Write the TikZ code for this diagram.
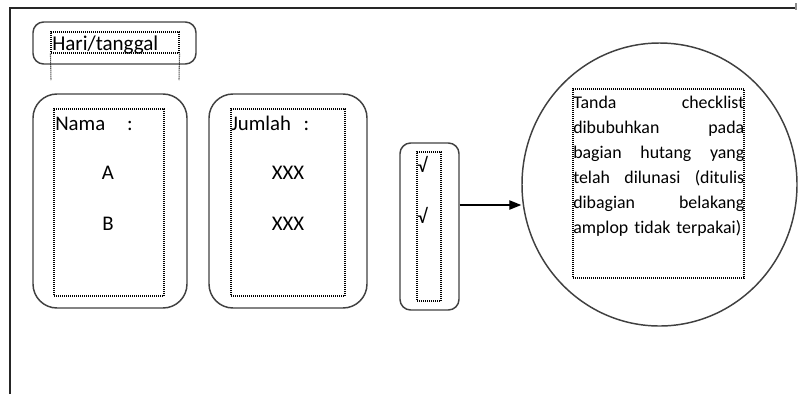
\documentclass[tikz,border=0pt]{standalone}
\usepackage{fontspec}
\setmainfont{Carlito}[Ligatures=NoCommon]
\usetikzlibrary{fit,shapes.geometric,arrows.meta}
\begin{document}
\begin{tikzpicture}[x=0.75pt,y=-0.75pt,
  outerbox/.style={draw=black!75, line width=1.1pt, inner sep=0pt},
  dotbox/.style={draw=black, line width=0.8pt, dash pattern=on 0.75pt off 0.75pt, inner sep=0pt},
  dotline/.style={draw=black, line width=0.8pt, dash pattern=on 0.75pt off 0.75pt},
  lbl/.style={inner sep=0pt, anchor=base west, font=\fontsize{15.6}{18}\selectfont},
  clbl/.style={inner sep=0pt, anchor=base, font=\fontsize{15.6}{18}\selectfont},
  chk/.style={inner sep=0pt, anchor=base west, font=\fontsize{15}{18}\selectfont},
]
\useasboundingbox (0,0) rectangle (799,394);
% frame
\coordinate (fl) at (10,394);
\coordinate (ftl) at (10,8);
\coordinate (ftr) at (797,8);
\draw[line width=1.1pt, black!85] (fl) -- (ftl) -- (ftr);
\coordinate (tka) at (796,3);
\coordinate (tkb) at (796,10);
\draw[line width=1pt, black!45] (tka) -- (tkb);
% Hari/tanggal
\node[outerbox, rounded corners=8pt, fit={(33,22) (196,64)}] (hari) {};
\node[dotbox, fit={(51,32) (179,53)}] (harid) {};
\coordinate (hl) at (51,80);
\coordinate (hr) at (179,80);
\draw[dotline] (harid.south west) -- (hl);
\draw[dotline] (harid.south east) -- (hr);
\node[lbl, font=\fontsize{15.8}{18}\selectfont] (harit) at (52,50) {Hari/tanggal};
% Nama
\node[outerbox, rounded corners=18pt, fit={(33,94) (187,308)}] (nama) {};
\node[dotbox, fit={(54,109) (164,296)}] (namad) {};
\node[lbl] (namat) at (55,130) {Nama\hspace{1.05em}:};
\node[clbl] (na) at (108,179) {A};
\node[clbl] (nb) at (108,230) {B};
% Jumlah
\node[outerbox, rounded corners=18pt, fit={(209,94) (367,308)}] (jml) {};
\node[dotbox, fit={(231,109) (345,296)}] (jmld) {};
\node[lbl] (jmlt) at (231,130) {Jumlah\hspace{0.6em}:};
\node[clbl] (ja) at (288,179) {XXX};
\node[clbl] (jb) at (288,230) {XXX};
% checks
\node[outerbox, rounded corners=8pt, fit={(400,143) (459,310)}] (ck) {};
\node[dotbox, fit={(417,152) (441,301)}] (ckd) {};
\node[chk] (c1) at (417,172) {√};
\node[chk] (c2) at (417,223) {√};
% circle
\node[draw=black!75, line width=1.1pt, ellipse, minimum width=206.25pt, minimum height=212.25pt, inner sep=0pt] (circ) at (659.5,184.5) {};
\node[dotbox, fit={(573,89) (744,278)}] (circd) {};
\node[inner sep=0pt, anchor=north west, text width=128.25pt, align=left, font=\fontsize{13.4}{18.75}\selectfont] (ctext) at (573,96) {%
\makebox[\linewidth][l]{Tanda\hfill checklist}\\
\makebox[\linewidth][l]{dibubuhkan\hfill pada}\\
\makebox[\linewidth][l]{bagian\hfill hutang\hfill yang}\\
\makebox[\linewidth][l]{telah\hfill dilunasi\hfill (ditulis}\\
\makebox[\linewidth][l]{dibagian\hfill belakang}\\
amplop tidak terpakai)};
% arrow
\coordinate (ay) at (0,205);
\draw[line width=1pt, -{Triangle[length=9pt,width=7pt]}] (ck.east |- ay) -- (circ.west |- ay);
\end{tikzpicture}
\end{document}
